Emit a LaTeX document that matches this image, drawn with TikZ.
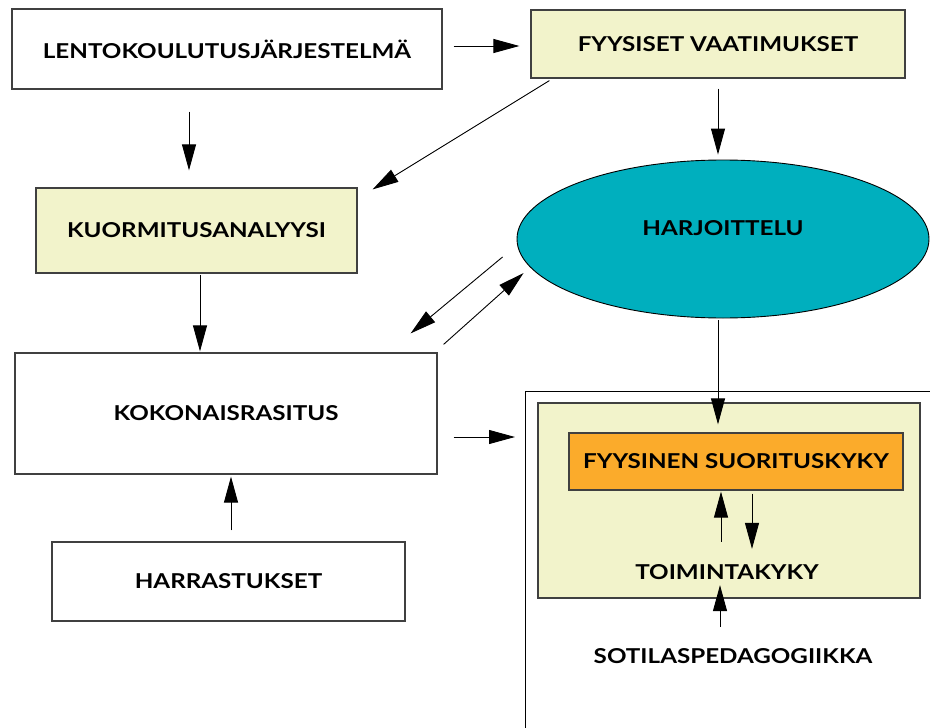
\documentclass[tikz,border=0pt]{standalone}
\usepackage{fontspec}
\setmainfont{Lato}[FakeStretch=1.18]
\usetikzlibrary{positioning,shapes.geometric,arrows.meta}
\definecolor{paleyellow}{HTML}{F2F3CB}
\definecolor{harjteal}{HTML}{00AFBE}
\definecolor{kykyorange}{HTML}{FBAB2B}

\begin{document}
\begin{tikzpicture}[x=1pt,y=-1pt,
    font=\bfseries\fontsize{20.5}{24}\selectfont,
    box/.style={draw=black!75, line width=1.2pt, inner sep=0pt},
    ylbox/.style={box, fill=paleyellow},
    arr/.style={-{Stealth[inset=0pt,length=26pt,width=14pt]}, line width=0.9pt}]
  \useasboundingbox (0,0) rectangle (930,728);

  % left column
  \node [box, minimum width=430pt, minimum height=80pt] (lento) at (227,49) {LENTOKOULUTUSJÄRJESTELMÄ};
  \node [ylbox, minimum width=321pt, minimum height=85pt] (kuorm) at (196.5,230.5) {KUORMITUSANALYYSI};
  \node [box, minimum width=422pt, minimum height=121pt] (koko) at (226,413.5) {KOKONAISRASITUS};
  \node [box, minimum width=353pt, minimum height=79pt] (harra) at (228.5,581.5) {HARRASTUKSET};

  % right column
  \node [ylbox, minimum width=374pt, minimum height=68pt] (fyys) at (718,44) {FYYSISET VAATIMUKSET};
  \node [ellipse, draw, line width=0.9pt, fill=harjteal, inner sep=0pt,
         minimum width=412pt, minimum height=158pt,
         label={[yshift=11pt]center:HARJOITTELU}] (harj) at (723,239) {};

  \coordinate (frame) at (525,391);
  \draw [line width=0.9pt] (525,728) -- (frame) -- (930,391);
  \node [ylbox, minimum width=382pt, minimum height=195pt] (kyky) at (729,500.5) {};
  \node [box, fill=kykyorange, minimum width=334pt, minimum height=57pt] (suor) at (736,461.5) {FYYSINEN SUORITUSKYKY};
  \node (toim) at (727,572) {TOIMINTAKYKY};
  \node (sotil) at (733,656) {SOTILASPEDAGOGIIKKA};

  \draw [arr] ([shift={(11,-3)}]lento.east) -- ([shift={(-11,2)}]fyys.west);
  \draw [arr] ([shift={(-38,22)}]lento.south) -- ([shift={(-7.5,-17)}]kuorm.north);
  \draw [arr] ([shift={(19,2)}]fyys.south west) -- ([shift={(15,2)}]kuorm.north east);
  \draw [arr] ([shift={(0,10)}]fyys.south) -- ([shift={(-5,-5)}]harj.north);
  \draw [arr] ([shift={(3.5,1)}]kuorm.south) -- ([shift={(-26,-1)}]koko.north);
  \draw [arr] ([shift={(-14,18)}]harj.west) -- ([shift={(-27,-19)}]koko.north east);
  \draw [arr] ([shift={(6,-8)}]koko.north east) -- ([shift={(7,34)}]harj.west);
  \draw [arr] ([shift={(2.5,-11)}]harra.north) -- ([shift={(5,2)}]koko.south);
  \draw [arr] ([shift={(16,23.5)}]koko.east) -- ([shift={(-10,46)}]frame);
  \draw [arr] ([shift={(-5,2)}]harj.south) -- ([shift={(-18,-8)}]suor.north);
  \draw [arr] ([shift={(-6,-19)}]toim.north) -- ([shift={(-15,1)}]suor.south);
  \draw [arr] ([shift={(16,3)}]suor.south) -- ([shift={(25,-12)}]toim.north);
  \draw [arr] ([shift={(-13,-18)}]sotil.north) -- ([shift={(-7,2)}]toim.south);
\end{tikzpicture}
\end{document}
